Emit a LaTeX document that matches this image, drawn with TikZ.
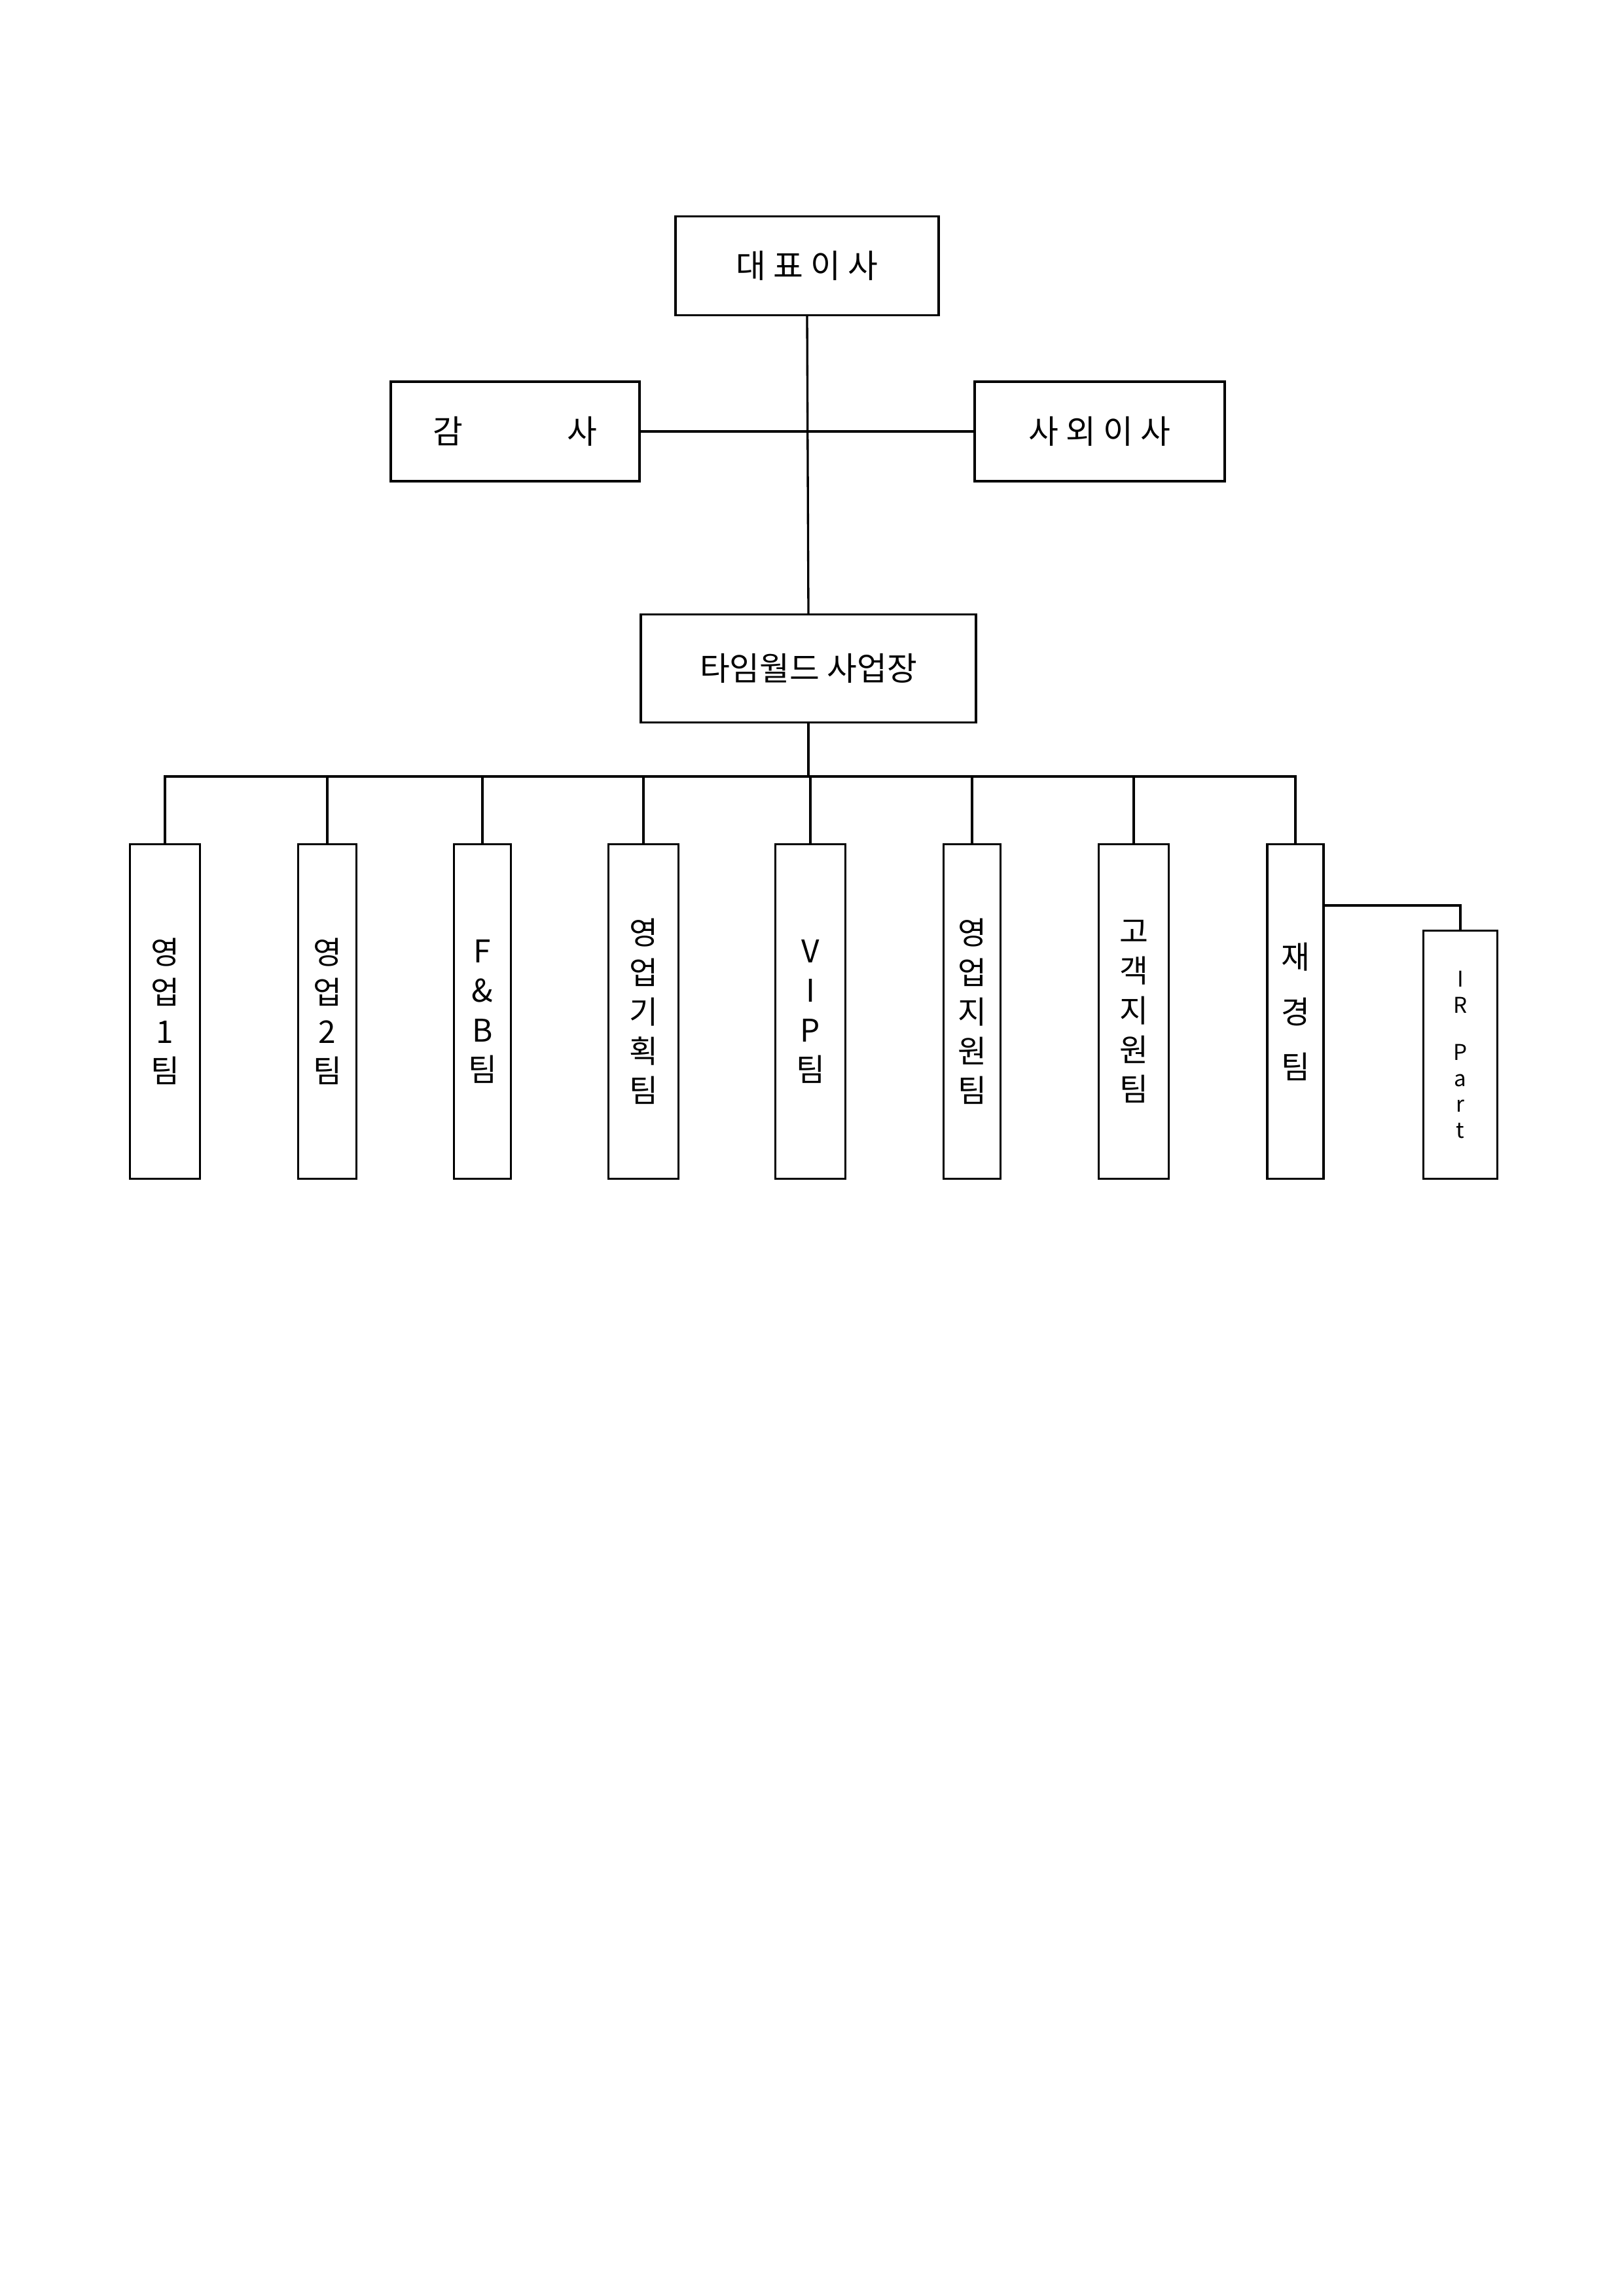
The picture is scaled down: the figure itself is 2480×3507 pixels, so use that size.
\documentclass[tikz,border=0pt]{standalone}
\usepackage{fontspec}
\setmainfont{Noto Sans CJK KR}
\begin{document}
\begin{tikzpicture}[x=0.24bp,y=-0.24bp,
  box/.style={draw,line width=0.8pt,inner sep=0pt,font=\fontsize{12}{14}\selectfont},
  vbox/.style={box,align=center,font=\fontsize{11.5}{14.5}\selectfont},
  ln/.style={line width=0.8pt}]
\useasboundingbox (0,0) rectangle (2480,3507);
\newcommand\bx[6]{\node[#6,minimum width=#4-#2,minimum height=#5-#3] (#1) at ({(#2+#4)/2},{(#3+#5)/2}) {};}
\node[box,minimum width=402*0.24bp,minimum height=151*0.24bp] (ceo) at (1233,406) {대 표 이 사};
\node[box,minimum width=380*0.24bp,minimum height=152*0.24bp] (audit) at (787,659) {감\hspace{3.2em}사};
\node[box,minimum width=382*0.24bp,minimum height=152*0.24bp] (outdir) at (1680,659) {사 외 이 사};
\node[box,minimum width=512*0.24bp,minimum height=165*0.24bp] (tw) at (1235,1021) {타임월드 사업장};
\coordinate (cross) at (1233,659);
\draw[ln] (ceo.south) -- (tw.north);
\draw[ln] (audit.east) -- (outdir.west);
\coordinate (bus) at (1235,1186);
\draw[ln] (tw.south) -- (bus);
\def\vb#1#2#3#4{\node[vbox,minimum width=#3*0.24bp,minimum height=511*0.24bp] (#1) at (#2,1545) {#4};}
\vb{t1}{252}{107}{영\\업\\1\\팀}
\vb{t2}{500}{89}{영\\업\\2\\팀}
\vb{t3}{737}{87}{F\\\&\\B\\팀}
\vb{t4}{983}{107}{영\\업\\기\\획\\팀}
\vb{t5}{1238}{107}{V\\I\\P\\팀}
\vb{t6}{1485}{87}{영\\업\\지\\원\\팀}
\vb{t7}{1732}{107}{고\\객\\지\\원\\팀}
\vb{t8}{1979}{86}{재\\[0.5em]경\\[0.5em]팀}
\node[box,align=center,font=\fontsize{8}{9.5}\selectfont,minimum width=113*0.24bp,minimum height=379*0.24bp] (ir) at (2231,1611) {I\\R\\[1em]P\\a\\r\\t};
\draw[ln] (t1.north) |- (t8.north |- bus) -- (t8.north);
\foreach \n in {t2,t3,t4,t5,t6,t7} \draw[ln] (\n.north) -- (\n.north |- bus);
\coordinate (irc) at (2231,1383);
\draw[ln] (t8.east |- irc) -- (irc) -- (ir.north);
\end{tikzpicture}
\end{document}
